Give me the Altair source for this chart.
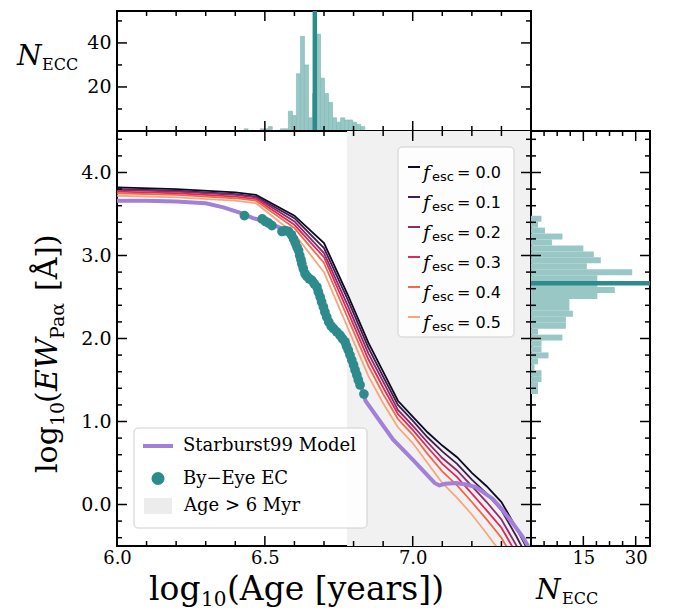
import altair as alt
import pandas as pd

SERIF = "DejaVu Serif"
SANS = "DejaVu Sans"
TEAL = "#2e8b8b"
TEAL_LIGHT = "#98c7c6"
LAVENDER = "#a27fd8"
GREY = "#f1f1f1"

# ---------------- data ----------------
F_LABELS = ["0.0", "0.1", "0.2", "0.3", "0.4", "0.5"]
F_COLORS = ["#0b0a24", "#3e1f4f", "#8e2b6c", "#dc2a5a", "#f2684b", "#f8a67c"]

MODEL_AGE = [6.0, 6.2, 6.4, 6.47, 6.6, 6.7, 6.78, 6.85, 6.9, 6.95, 7.0, 7.05, 7.1, 7.15, 7.2, 7.25, 7.3, 7.35, 7.4]
EW_F00 = [3.82, 3.80, 3.76, 3.73, 3.48, 3.15, 2.53, 1.95, 1.60, 1.25, 1.06, 0.87, 0.71, 0.57, 0.38, 0.22, 0.03, -0.28, -0.62]
EW_F01 = [3.80, 3.78, 3.74, 3.71, 3.45, 3.09, 2.47, 1.89, 1.54, 1.20, 1.01, 0.81, 0.64, 0.49, 0.30, 0.13, -0.07, -0.38, -0.72]
EW_F02 = [3.79, 3.77, 3.73, 3.70, 3.41, 3.03, 2.40, 1.82, 1.48, 1.14, 0.95, 0.75, 0.56, 0.41, 0.22, 0.03, -0.18, -0.49, -0.82]
EW_F03 = [3.77, 3.75, 3.71, 3.68, 3.37, 2.98, 2.33, 1.75, 1.41, 1.09, 0.90, 0.69, 0.49, 0.33, 0.13, -0.07, -0.28, -0.59, -0.92]
EW_F04 = [3.75, 3.73, 3.69, 3.66, 3.33, 2.91, 2.25, 1.67, 1.33, 1.03, 0.84, 0.61, 0.40, 0.23, 0.03, -0.18, -0.40, -0.71, -1.04]
EW_F05 = [3.72, 3.70, 3.66, 3.63, 3.26, 2.80, 2.13, 1.55, 1.22, 0.93, 0.74, 0.50, 0.26, 0.08, -0.12, -0.35, -0.59, -0.90, -1.22]
EW_LINES = [EW_F00, EW_F01, EW_F02, EW_F03, EW_F04, EW_F05]

SB99_AGE = [6.0, 6.1, 6.2, 6.3, 6.36, 6.42, 6.46, 6.5, 6.555, 6.58, 6.597, 6.614, 6.625, 6.636, 6.659,
            6.676, 6.687, 6.698, 6.709, 6.732, 6.754, 6.771, 6.782, 6.794, 6.805, 6.816, 6.835, 6.84,
            6.89, 6.934, 7.0, 7.074, 7.09, 7.11, 7.147, 7.18, 7.214, 7.25, 7.27, 7.30, 7.337, 7.37, 7.40]
SB99_EW = [3.66, 3.66, 3.65, 3.63, 3.58, 3.51, 3.45, 3.41, 3.33, 3.29, 3.20, 3.06, 2.90, 2.78, 2.70,
           2.62, 2.50, 2.38, 2.26, 2.12, 2.04, 1.96, 1.86, 1.74, 1.62, 1.50, 1.33, 1.25,
           1.00, 0.78, 0.54, 0.26, 0.23, 0.25, 0.26, 0.24, 0.21, 0.12, 0.07, -0.05, -0.22, -0.38, -0.56]

EC_AGE = [6.431, 6.491, 6.502, 6.513, 6.524, 6.558, 6.569, 6.580, 6.590, 6.597, 6.603, 6.609, 6.614,
          6.618, 6.622, 6.625, 6.630, 6.636, 6.642, 6.650, 6.659, 6.667, 6.676, 6.681, 6.687, 6.692,
          6.698, 6.703, 6.709, 6.716, 6.724, 6.732, 6.743, 6.754, 6.762, 6.771, 6.776, 6.782, 6.788,
          6.794, 6.800, 6.805, 6.811, 6.816, 6.822, 6.835]
EC_EW = [3.48, 3.44, 3.41, 3.39, 3.36, 3.29, 3.30, 3.29, 3.25, 3.20, 3.15, 3.10, 3.06,
         3.00, 2.95, 2.90, 2.84, 2.78, 2.75, 2.72, 2.70, 2.66, 2.62, 2.56, 2.50, 2.44,
         2.38, 2.32, 2.26, 2.20, 2.15, 2.12, 2.08, 2.04, 2.00, 1.96, 1.91, 1.86, 1.80,
         1.74, 1.68, 1.62, 1.56, 1.50, 1.44, 1.33]

AGE_CUT = 6.778          # log10(6 Myr)
AGE_MEDIAN = 6.669
EW_MEDIAN = 2.666

AGE_BIN_START = 6.4299
AGE_BIN_WIDTH = 0.0136
AGE_COUNTS = [1, 0, 0, 0, 1, 1, 2, 0, 0, 1, 1, 9, 7, 26, 43, 30, 6, 17, 44, 24, 17, 13, 6, 4, 6, 5, 5, 4, 3, 2]

EW_BIN_START = 1.331
EW_BIN_WIDTH = 0.0716
EW_COUNTS = [2, 2, 3, 3, 1, 2, 5, 3, 3, 9, 2, 10, 10, 12, 11, 11, 19, 24, 19, 19, 29, 16, 20, 18, 15, 6, 9, 4, 2, 3]

LEGEND_MODEL = ["Starburst99 Model", "By\u2212Eye EC", "Age > 6 Myr"]

# ---------------- layout ----------------
W, H = 414, 415
HT = 120
WR = 119


def txt(s, x, y, size, font=SERIF, style="normal", angle=0, align="left", baseline="alphabetic", color="black"):
    return alt.Chart(pd.DataFrame({"a": [0]})).mark_text(
        text=s, font=font, fontSize=size, fontStyle=style, angle=angle, align=align,
        baseline=baseline, color=color
    ).encode(x=alt.value(x), y=alt.value(y))


def xticks(field, enc, major, minor, height, lmaj=10, lmin=5):
    out = []
    for vals, L in ((major, lmaj), (minor, lmin)):
        df = pd.DataFrame({field: vals})
        out.append(alt.Chart(df).mark_rule(color="black", strokeWidth=1.5).encode(
            x=enc, y=alt.value(height), y2=alt.value(height - L)))
        out.append(alt.Chart(df).mark_rule(color="black", strokeWidth=1.5).encode(
            x=enc, y=alt.value(0), y2=alt.value(L)))
    return out


def yticks(field, enc, major, minor, width, lmaj=10, lmin=5):
    out = []
    for vals, L in ((major, lmaj), (minor, lmin)):
        df = pd.DataFrame({field: vals})
        out.append(alt.Chart(df).mark_rule(color="black", strokeWidth=1.5).encode(
            y=enc, x=alt.value(0), x2=alt.value(L)))
        out.append(alt.Chart(df).mark_rule(color="black", strokeWidth=1.5).encode(
            y=enc, x=alt.value(width), x2=alt.value(width - L)))
    return out


lab_axis = dict(ticks=False, domain=False, grid=False, labelFont=SERIF, labelFontSize=19,
                labelColor="black", title=None, labelFlush=False)
lab_axis_x = dict(lab_axis, labelFontSize=18)

X_MAIN = alt.X("age:Q", scale=alt.Scale(domain=[6.0, 7.4], nice=False, zero=False),
               axis=alt.Axis(values=[6.0, 6.5, 7.0], format=".1f", labelPadding=3, **lab_axis_x))
Y_MAIN = alt.Y("ew:Q", scale=alt.Scale(domain=[-0.5, 4.5], nice=False, zero=False),
               axis=alt.Axis(values=[0, 1, 2, 3, 4], format=".1f", labelPadding=6, **lab_axis))

x_major = [6.0, 6.5, 7.0]
x_minor = [round(6.0 + 0.1 * i, 2) for i in range(1, 14) if i not in (5, 10)]
y_major = [0, 1, 2, 3, 4]
y_minor = [round(-0.4 + 0.2 * i, 2) for i in range(0, 25) if abs(round(-0.4 + 0.2 * i, 2) - round(-0.4 + 0.2 * i)) > 0.01]

# ---------------- main panel ----------------
grey = alt.Chart(pd.DataFrame({"age": [AGE_CUT], "age2": [7.4]})).mark_rect(color=GREY).encode(
    x=X_MAIN, x2="age2:Q", y=alt.value(0), y2=alt.value(H))

rows = []
for lab, vals in zip(F_LABELS, EW_LINES):
    for a, e in zip(MODEL_AGE, vals):
        rows.append({"age": a, "ew": e, "f": lab})
lines_df = pd.DataFrame(rows)
color_f = alt.Color("f:N", scale=alt.Scale(domain=F_LABELS, range=F_COLORS), legend=None)
flines = alt.Chart(lines_df).mark_line(strokeWidth=1.8, clip=True).encode(x=X_MAIN, y=Y_MAIN, color=color_f)

sb = alt.Chart(pd.DataFrame({"age": SB99_AGE, "ew": SB99_EW})).mark_line(
    color=LAVENDER, strokeWidth=4, clip=True).encode(x=X_MAIN, y=Y_MAIN)
pts = alt.Chart(pd.DataFrame({"age": EC_AGE, "ew": EC_EW})).mark_circle(
    color=TEAL, size=95, opacity=1).encode(x=X_MAIN, y=Y_MAIN)

# legend 1 (f_esc)
leg1_box = alt.Chart(pd.DataFrame({"a": [0]})).mark_rect(
    fill="white", fillOpacity=0.85, stroke="#cfcfcf", strokeWidth=1, cornerRadius=4).encode(
    x=alt.value(281), x2=alt.value(397), y=alt.value(16), y2=alt.value(206))
leg1_df = pd.DataFrame({"f": F_LABELS, "row": list(range(len(F_LABELS)))})
leg1_base = alt.Chart(leg1_df).transform_calculate(
    yp="36 + 30*datum.row", yb="42 + 30*datum.row", ys="46 + 30*datum.row", eq="'= ' + datum.f")
leg1_line = leg1_base.mark_rule(strokeWidth=2).encode(
    x=alt.value(291), x2=alt.value(303), y=alt.Y("yp:Q", scale=None), color=color_f)
leg1_f = leg1_base.mark_text(text="f", font=SERIF, fontStyle="italic", fontSize=19, align="left").encode(
    x=alt.value(306), y=alt.Y("yb:Q", scale=None))
leg1_esc = leg1_base.mark_text(text="esc", font=SANS, fontSize=13, align="left").encode(
    x=alt.value(315), y=alt.Y("ys:Q", scale=None))
leg1_eq = leg1_base.mark_text(font=SANS, fontSize=16, align="left").encode(
    x=alt.value(340), y=alt.Y("yb:Q", scale=None), text="eq:N")

# legend 2 (model / data / region)
leg2_box = alt.Chart(pd.DataFrame({"a": [0]})).mark_rect(
    fill="white", fillOpacity=0.85, stroke="#cfcfcf", strokeWidth=1, cornerRadius=4).encode(
    x=alt.value(17), x2=alt.value(250), y=alt.value(297), y2=alt.value(397))
leg2_line = alt.Chart(pd.DataFrame({"a": [0]})).mark_rule(color=LAVENDER, strokeWidth=4).encode(
    x=alt.value(26), x2=alt.value(56), y=alt.value(315))
leg2_dot = alt.Chart(pd.DataFrame({"a": [0]})).mark_circle(color=TEAL, size=170, opacity=1).encode(
    x=alt.value(41), y=alt.value(347.5))
leg2_sq = alt.Chart(pd.DataFrame({"a": [0]})).mark_rect(color="#ececec").encode(
    x=alt.value(27), x2=alt.value(55), y=alt.value(367), y2=alt.value(383))
leg2_txt = [txt(LEGEND_MODEL[0], 66, 315, 18, baseline="middle"),
            txt(LEGEND_MODEL[1], 66, 347.5, 18, baseline="middle"),
            txt(LEGEND_MODEL[2], 67, 375, 18, baseline="middle")]

# axis titles (main)
main_titles = [
    txt("log", 32, 469, 33),
    txt("10", 84, 475, 20),
    txt("(Age [years])", 110, 469, 33),
    txt("log", -60, 342, 30, angle=270),
    txt("10", -53, 295, 19, angle=270),
    txt("(", -60, 272, 30, angle=270),
    txt("EW", -60, 260, 30, style="italic", angle=270),
    txt("Pa\u03b1", -53, 208, 19, angle=270),
    txt("[\u00c5])", -60, 160, 30, angle=270),
]

main_ticks = xticks("age", X_MAIN, x_major, x_minor, H) + yticks("ew", Y_MAIN, y_major, y_minor, W)

main = alt.layer(
    grey, flines, sb, pts,
    leg1_box, leg1_line, leg1_f, leg1_esc, leg1_eq,
    leg2_box, leg2_line, leg2_dot, leg2_sq, *leg2_txt,
    *main_ticks, *main_titles
).properties(width=W, height=H)

# ---------------- top histogram ----------------
X_TOP = alt.X("age:Q", scale=alt.Scale(domain=[6.0, 7.4], nice=False, zero=False), axis=None)
Y_TOP = alt.Y("n:Q", scale=alt.Scale(domain=[0, 54.5], nice=False, zero=False),
              axis=alt.Axis(values=[20, 40], format="d", labelPadding=6, **lab_axis))
top_df = pd.DataFrame({
    "age": [AGE_BIN_START + i * AGE_BIN_WIDTH for i in range(len(AGE_COUNTS))],
    "age2": [AGE_BIN_START + (i + 1) * AGE_BIN_WIDTH for i in range(len(AGE_COUNTS))],
    "n": AGE_COUNTS, "z": 0})
top_df = top_df[top_df.n > 0]
top_bars = alt.Chart(top_df).mark_rect(fill=TEAL_LIGHT, stroke="#7db8b6", strokeWidth=0.6).encode(
    x=X_TOP, x2="age2:Q", y=Y_TOP, y2="z:Q")
top_med = alt.Chart(pd.DataFrame({"age": [AGE_MEDIAN]})).mark_rule(color=TEAL, strokeWidth=4.5).encode(
    x=X_TOP, y=alt.value(0), y2=alt.value(HT))
top_ticks = xticks("age", X_TOP, x_major, x_minor, HT) + yticks("n", Y_TOP, [20, 40], [10, 30, 50], W)
top = alt.layer(
    top_bars, top_med, *top_ticks,
    txt("N", -100, 54, 28, style="italic"),
    txt("ECC", -75, 59, 16),
).properties(width=W, height=HT)

# ---------------- right histogram ----------------
X_R = alt.X("n:Q", scale=alt.Scale(domain=[0, 34.1], nice=False, zero=False),
            axis=alt.Axis(values=[15, 30], format="d", labelPadding=3, **lab_axis_x))
Y_R = alt.Y("ew:Q", scale=alt.Scale(domain=[-0.5, 4.5], nice=False, zero=False), axis=None)
r_df = pd.DataFrame({
    "ew": [EW_BIN_START + i * EW_BIN_WIDTH for i in range(len(EW_COUNTS))],
    "ew2": [EW_BIN_START + (i + 1) * EW_BIN_WIDTH for i in range(len(EW_COUNTS))],
    "n": EW_COUNTS, "z": 0})
r_bars = alt.Chart(r_df).mark_rect(fill=TEAL_LIGHT).encode(x=X_R, x2="z:Q", y=Y_R, y2="ew2:Q")
r_med = alt.Chart(pd.DataFrame({"ew": [EW_MEDIAN]})).mark_rule(color=TEAL, strokeWidth=4.5).encode(
    y=Y_R, x=alt.value(0), x2=alt.value(WR))
r_ticks = xticks("n", X_R, [15, 30], [3.75, 7.5, 11.25, 18.75, 22.5, 26.25], H) + \
    yticks("ew", Y_R, y_major, y_minor, WR)
right = alt.layer(
    r_bars, r_med, *r_ticks,
    txt("N", 5, 468, 28, style="italic"),
    txt("ECC", 31, 473, 16),
).properties(width=WR, height=H)

chart = alt.vconcat(
    top, alt.hconcat(main, right, spacing=0, bounds="flush"), spacing=0, bounds="flush"
).properties(
    padding={"left": 16, "top": 7, "right": 5, "bottom": 2}
).configure_view(stroke="black", strokeWidth=2)

chart.save("out.html", embed_options={"renderer": "svg", "actions": False})
